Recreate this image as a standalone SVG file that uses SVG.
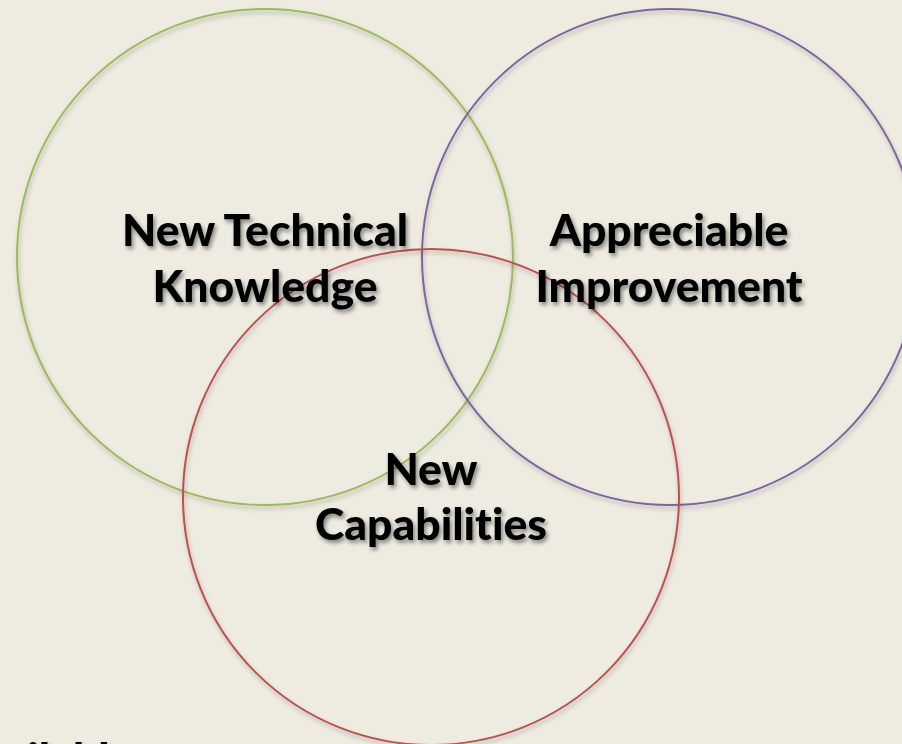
<svg xmlns="http://www.w3.org/2000/svg" width="902" height="744" viewBox="0 0 902 744">
  <defs>
    <filter id="textShadow" x="-10%" y="-20%" width="120%" height="150%">
      <feDropShadow dx="2" dy="3" stdDeviation="2" flood-color="#000" flood-opacity="0.45"/>
    </filter>
    <filter id="ringShadow" x="-10%" y="-10%" width="120%" height="120%">
      <feDropShadow dx="1" dy="3" stdDeviation="2" flood-color="#000" flood-opacity="0.25"/>
    </filter>
  </defs>
  <style>
    .ring { fill: none; stroke-width: 2; filter: url(#ringShadow); }
    .label { font-family: Lato, "Open Sans", "Liberation Sans", sans-serif; font-weight: 900; font-size: 44.5px; fill: #000; text-anchor: middle; font-variant-ligatures: none; font-feature-settings: "liga" 0, "clig" 0; filter: url(#textShadow); }
  </style>
  <rect width="902" height="744" fill="#EEECE1"/>

  <g id="technical-knowledge">
    <circle class="ring" cx="265" cy="257" r="248" stroke="#9BBB59"/>
  </g>
  <g id="appreciable-improvement">
    <circle class="ring" cx="670" cy="257" r="248" stroke="#8064A2"/>
  </g>
  <g id="new-capabilities">
    <circle class="ring" cx="431" cy="497" r="248" stroke="#C0504D"/>
  </g>

  <g id="labels">
    <text class="label" x="265" y="246">New Technical</text>
    <text class="label" x="265" y="302">Knowledge</text>
    <text class="label" x="669" y="246">Appreciable</text>
    <text class="label" x="669" y="302">Improvement</text>
    <text class="label" x="431" y="485">New</text>
    <text class="label" x="431" y="540">Capabilities</text>
    <text class="label" x="-48" y="775" style="text-anchor:start">Available</text>
  </g>
</svg>
